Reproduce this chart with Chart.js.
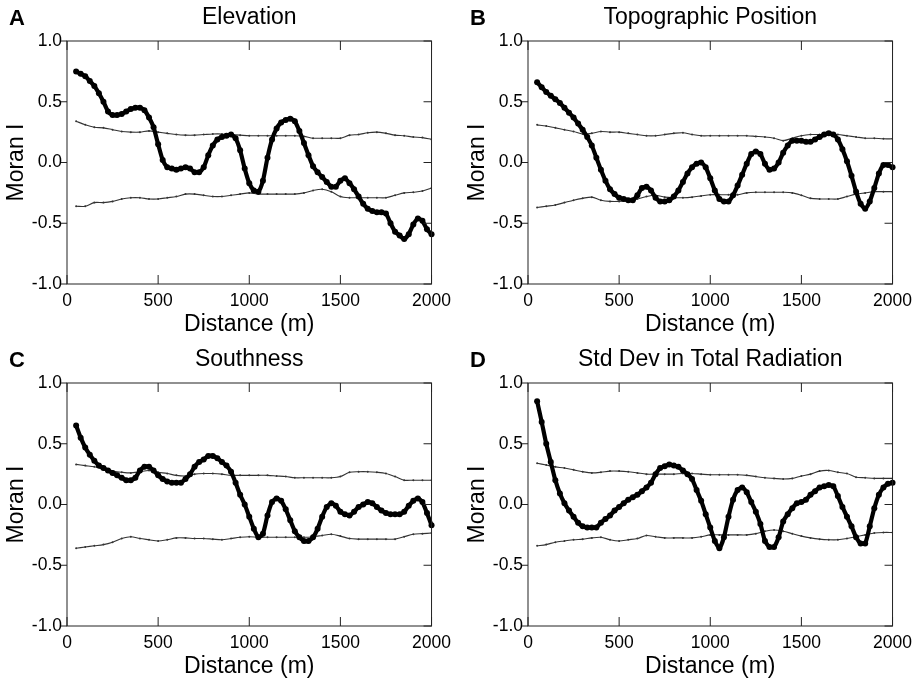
<!DOCTYPE html>
<html>
<head>
<meta charset="utf-8">
<script src="https://cdn.jsdelivr.net/npm/chart.js@4.4.1/dist/chart.umd.min.js"></script>
<style>
  html, body { margin: 0; padding: 0; background: #fff; }
  #wrap { position: relative; width: 917px; height: 679px; overflow: hidden; background: #fff; }
  .panel { position: absolute; width: 458px; height: 338px; }
  .panel canvas { display: block; }
</style>
</head>
<body>
<div id="wrap">
  <div class="panel" style="left:0px;top:0px;"><canvas id="cA" width="458" height="338"></canvas></div>
  <div class="panel" style="left:461px;top:0px;"><canvas id="cB" width="458" height="338"></canvas></div>
  <div class="panel" style="left:0px;top:342px;"><canvas id="cC" width="458" height="338"></canvas></div>
  <div class="panel" style="left:461px;top:342px;"><canvas id="cD" width="458" height="338"></canvas></div>
</div>
<script>
// ---------- DATA ----------
const distances = [50,75,100,125,150,175,200,225,250,275,300,325,350,375,400,425,450,475,500,525,
  550,575,600,625,650,675,700,725,750,775,800,825,850,875,900,925,950,975,1000,1025,
  1050,1075,1100,1125,1150,1175,1200,1225,1250,1275,1300,1325,1350,1375,1400,1425,1450,1475,1500,1525,
  1550,1575,1600,1625,1650,1675,1700,1725,1750,1775,1800,1825,1850,1875,1900,1925,1950,1975,2000];

const envDistances = [50,100,150,200,250,300,350,400,450,500,550,600,650,700,750,800,850,900,950,1000,
  1050,1100,1150,1200,1250,1300,1350,1400,1450,1500,1550,1600,1650,1700,1750,1800,1850,1900,1950,2000];

const xTicks = [0,500,1000,1500,2000];
const yTicks = [-1.0,-0.5,0.0,0.5,1.0];
const panelTitles = ["Elevation","Topographic Position","Southness","Std Dev in Total Radiation"];
const panelLetters = ["A","B","C","D"];
const xTitle = "Distance (m)";
const yTitle = "Moran I";

const elevation = [0.75,0.73,0.71,0.67,0.63,0.57,0.50,0.42,0.39,0.39,
  0.40,0.42,0.44,0.45,0.45,0.43,0.37,0.29,0.15,0.02,
  -0.04,-0.05,-0.06,-0.05,-0.04,-0.05,-0.08,-0.08,-0.04,0.06,
  0.14,0.19,0.21,0.22,0.23,0.20,0.10,-0.05,-0.17,-0.23,
  -0.24,-0.15,0.04,0.19,0.28,0.33,0.35,0.36,0.34,0.26,
  0.16,0.06,-0.03,-0.08,-0.12,-0.16,-0.20,-0.20,-0.15,-0.13,
  -0.17,-0.22,-0.28,-0.34,-0.38,-0.40,-0.41,-0.41,-0.42,-0.50,
  -0.57,-0.60,-0.63,-0.59,-0.51,-0.46,-0.48,-0.55,-0.59];
const elevationUpper = [0.34,0.31,0.29,0.285,0.27,0.255,0.25,0.25,0.26,0.25,
  0.24,0.23,0.225,0.225,0.23,0.235,0.235,0.23,0.225,0.22,
  0.22,0.22,0.22,0.22,0.22,0.215,0.20,0.20,0.20,0.20,
  0.225,0.23,0.245,0.25,0.24,0.225,0.22,0.21,0.205,0.19];
const elevationLower = [-0.36,-0.36,-0.33,-0.33,-0.32,-0.30,-0.29,-0.29,-0.30,-0.30,
  -0.29,-0.28,-0.26,-0.26,-0.27,-0.28,-0.28,-0.27,-0.26,-0.25,
  -0.26,-0.26,-0.26,-0.26,-0.26,-0.25,-0.23,-0.22,-0.24,-0.28,
  -0.29,-0.29,-0.29,-0.29,-0.29,-0.27,-0.25,-0.245,-0.235,-0.21];

const topoPosition = [0.66,0.62,0.58,0.55,0.52,0.49,0.45,0.41,0.37,0.32,
  0.27,0.21,0.14,0.04,-0.06,-0.15,-0.22,-0.26,-0.29,-0.30,
  -0.31,-0.31,-0.27,-0.21,-0.20,-0.23,-0.29,-0.32,-0.32,-0.31,
  -0.28,-0.23,-0.16,-0.09,-0.04,-0.01,0.00,-0.04,-0.13,-0.23,
  -0.30,-0.32,-0.32,-0.27,-0.19,-0.10,-0.01,0.07,0.09,0.07,
  -0.01,-0.06,-0.05,0.00,0.08,0.14,0.18,0.18,0.18,0.17,
  0.17,0.19,0.21,0.23,0.24,0.23,0.19,0.11,0.01,-0.11,
  -0.24,-0.34,-0.38,-0.32,-0.21,-0.09,-0.02,-0.02,-0.04];
const topoUpper = [0.31,0.30,0.285,0.27,0.255,0.235,0.24,0.255,0.25,0.25,
  0.24,0.23,0.22,0.22,0.23,0.24,0.245,0.23,0.22,0.22,
  0.22,0.22,0.22,0.22,0.215,0.21,0.20,0.18,0.20,0.22,
  0.23,0.23,0.235,0.23,0.22,0.21,0.20,0.20,0.195,0.195];
const topoLower = [-0.37,-0.36,-0.35,-0.33,-0.31,-0.295,-0.285,-0.31,-0.32,-0.32,
  -0.31,-0.30,-0.28,-0.27,-0.285,-0.29,-0.29,-0.285,-0.275,-0.265,
  -0.265,-0.265,-0.265,-0.25,-0.245,-0.245,-0.245,-0.245,-0.25,-0.27,
  -0.295,-0.30,-0.30,-0.30,-0.28,-0.26,-0.25,-0.24,-0.24,-0.24];

const southness = [0.65,0.55,0.47,0.41,0.36,0.32,0.30,0.28,0.26,0.24,
  0.22,0.20,0.20,0.22,0.28,0.31,0.31,0.28,0.24,0.21,
  0.19,0.18,0.18,0.18,0.21,0.25,0.31,0.35,0.37,0.40,
  0.40,0.38,0.35,0.32,0.27,0.18,0.08,0.00,-0.10,-0.20,
  -0.27,-0.24,-0.09,0.02,0.05,0.03,-0.04,-0.13,-0.22,-0.27,
  -0.30,-0.30,-0.27,-0.20,-0.10,-0.02,0.01,-0.01,-0.06,-0.08,
  -0.09,-0.06,-0.02,0.00,0.02,0.01,-0.02,-0.05,-0.07,-0.08,
  -0.08,-0.08,-0.06,-0.01,0.03,0.05,0.02,-0.07,-0.17];
const southUpper = [0.33,0.32,0.31,0.29,0.275,0.265,0.26,0.27,0.28,0.265,
  0.255,0.24,0.235,0.25,0.255,0.255,0.25,0.24,0.24,0.24,
  0.24,0.24,0.235,0.23,0.22,0.22,0.22,0.22,0.22,0.23,
  0.265,0.27,0.27,0.265,0.255,0.23,0.20,0.20,0.20,0.20];
const southLower = [-0.36,-0.35,-0.34,-0.33,-0.31,-0.28,-0.265,-0.28,-0.29,-0.30,
  -0.29,-0.275,-0.275,-0.28,-0.28,-0.285,-0.29,-0.28,-0.27,-0.265,
  -0.27,-0.27,-0.27,-0.27,-0.27,-0.27,-0.265,-0.255,-0.245,-0.26,
  -0.28,-0.285,-0.285,-0.285,-0.285,-0.285,-0.265,-0.245,-0.24,-0.235];

const radiationSD = [0.85,0.68,0.50,0.35,0.20,0.09,0.01,-0.05,-0.10,-0.15,
  -0.18,-0.19,-0.19,-0.19,-0.15,-0.12,-0.09,-0.05,-0.02,0.01,
  0.04,0.06,0.08,0.11,0.14,0.18,0.25,0.30,0.315,0.33,
  0.32,0.31,0.28,0.25,0.21,0.12,0.03,-0.08,-0.19,-0.30,
  -0.36,-0.27,-0.10,0.04,0.12,0.14,0.10,0.02,-0.06,-0.16,
  -0.30,-0.35,-0.35,-0.27,-0.14,-0.08,-0.03,0.01,0.02,0.04,
  0.08,0.11,0.14,0.15,0.16,0.15,0.07,-0.02,-0.10,-0.18,
  -0.27,-0.32,-0.32,-0.18,-0.03,0.08,0.14,0.17,0.18];
const radUpper = [0.34,0.325,0.31,0.30,0.285,0.27,0.26,0.265,0.275,0.275,
  0.27,0.26,0.25,0.25,0.25,0.25,0.255,0.255,0.25,0.245,
  0.245,0.245,0.245,0.24,0.23,0.22,0.215,0.21,0.215,0.235,
  0.25,0.275,0.28,0.265,0.255,0.225,0.22,0.215,0.215,0.215];
const radLower = [-0.34,-0.33,-0.31,-0.30,-0.29,-0.285,-0.275,-0.27,-0.29,-0.30,
  -0.29,-0.28,-0.255,-0.265,-0.275,-0.275,-0.275,-0.275,-0.265,-0.25,
  -0.25,-0.25,-0.25,-0.25,-0.24,-0.22,-0.21,-0.22,-0.24,-0.26,
  -0.275,-0.285,-0.29,-0.29,-0.28,-0.265,-0.25,-0.235,-0.23,-0.23];

// ---------- RENDER ----------
const FONT = '"Liberation Sans", Arial, Helvetica, sans-serif';
const AXIS_COLOR = '#222';

const framePlugin = {
  id: 'frame',
  afterDatasetsDraw(chart, args, opts) {
    const { ctx, chartArea: a, scales } = chart;
    const xs = scales.x, ys = scales.y;
    ctx.save();
    ctx.strokeStyle = AXIS_COLOR;
    ctx.lineWidth = 1;
    ctx.strokeRect(a.left, a.top, a.right - a.left, a.bottom - a.top);
    ctx.beginPath();
    xTicks.forEach(v => {
      const px = xs.getPixelForValue(v);
      ctx.moveTo(px, a.bottom); ctx.lineTo(px, a.bottom - 9);
      ctx.moveTo(px, a.top); ctx.lineTo(px, a.top + 9);
    });
    yTicks.forEach(v => {
      const py = ys.getPixelForValue(v);
      ctx.moveTo(a.left - 6, py); ctx.lineTo(a.left, py);
      ctx.moveTo(a.right, py); ctx.lineTo(a.right - 8, py);
    });
    ctx.stroke();
    ctx.fillStyle = '#000';
    ctx.textBaseline = 'middle';
    ctx.textAlign = 'center';
    ctx.font = '23px ' + FONT;
    ctx.fillText(opts.title, (a.left + a.right) / 2, 18);
    ctx.textAlign = 'left';
    ctx.font = 'bold 22px ' + FONT;
    ctx.fillText(opts.letter, 9, 19);
    ctx.restore();
  }
};

function pts(xsArr, ysArr) { return xsArr.map((d, i) => ({ x: d, y: ysArr[i] })); }

function makePanel(id, idx, main, upper, lower) {
  new Chart(document.getElementById(id), {
    type: 'line',
    data: {
      datasets: [
        { data: pts(distances, main), borderColor: '#000', borderWidth: 4.2, pointRadius: 3,
          pointBackgroundColor: '#000', pointBorderWidth: 0, pointHoverRadius: 3, tension: 0.2, clip: 4 },
        { data: pts(envDistances, upper), borderColor: '#333', borderWidth: 1.1, pointRadius: 1,
          pointBackgroundColor: '#333', pointBorderWidth: 0, tension: 0.3 },
        { data: pts(envDistances, lower), borderColor: '#333', borderWidth: 1.1, pointRadius: 1,
          pointBackgroundColor: '#333', pointBorderWidth: 0, tension: 0.3 }
      ]
    },
    options: {
      responsive: false,
      animation: false,
      devicePixelRatio: 1,
      layout: { padding: { left: 0, top: 41, right: 25, bottom: 0 } },
      plugins: {
        legend: { display: false },
        tooltip: { enabled: false },
        frame: { title: panelTitles[idx], letter: panelLetters[idx] }
      },
      scales: {
        x: {
          type: 'linear', min: 0, max: 2000,
          afterBuildTicks: s => { s.ticks = xTicks.map(v => ({ value: v })); },
          afterFit: s => { s.height = 54; },
          grid: { display: false, drawTicks: false },
          border: { display: false },
          ticks: { padding: 7, color: '#000', font: { family: FONT, size: 17.5 }, maxRotation: 0,
                   callback: v => String(v) },
          title: { display: true, text: xTitle, color: '#000', font: { family: FONT, size: 23 },
                   padding: { top: 0, bottom: 0 } }
        },
        y: {
          type: 'linear', min: -1, max: 1,
          afterBuildTicks: s => { s.ticks = yTicks.map(v => ({ value: v })); },
          afterFit: s => { s.width = 67; },
          grid: { display: false, drawTicks: false },
          border: { display: false },
          ticks: { padding: 5, color: '#000', font: { family: FONT, size: 17.5 },
                   callback: v => Number(v).toFixed(1) },
          title: { display: true, text: yTitle, color: '#000', font: { family: FONT, size: 23 },
                   padding: { top: 3, bottom: 0 } }
        }
      }
    },
    plugins: [framePlugin]
  });
}

makePanel('cA', 0, elevation, elevationUpper, elevationLower);
makePanel('cB', 1, topoPosition, topoUpper, topoLower);
makePanel('cC', 2, southness, southUpper, southLower);
makePanel('cD', 3, radiationSD, radUpper, radLower);
</script>
</body>
</html>
